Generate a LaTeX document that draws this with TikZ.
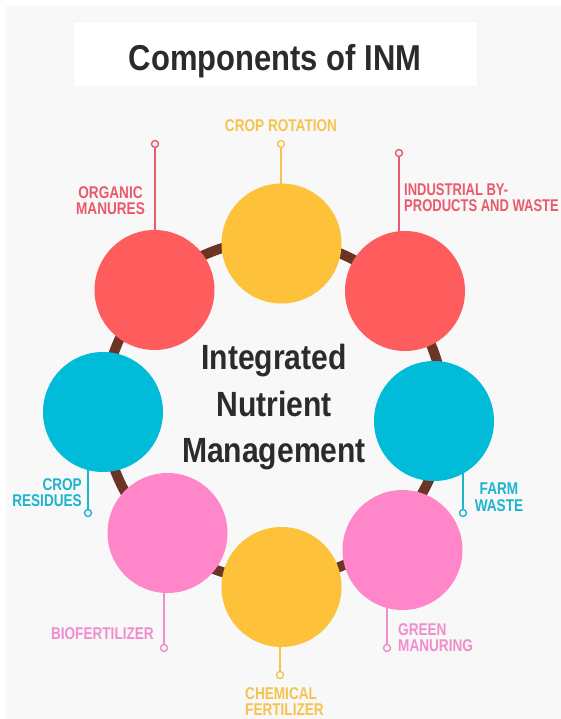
\documentclass[tikz,border=0pt]{standalone}
\usepackage{fontspec}
\newfontfamily\headfont{Liberation Sans}[FakeStretch=0.86]
\newfontfamily\tagfont{Liberation Sans}[FakeStretch=0.80]
\newfontfamily\tagfontnarrow{Liberation Sans}[FakeStretch=0.765]
\usetikzlibrary{backgrounds}

\definecolor{paper}{HTML}{F8F8F8}
\definecolor{ink}{HTML}{2B2B2B}
\definecolor{ringbrown}{HTML}{6B3424}
\definecolor{redfill}{HTML}{FF5D5D}
\definecolor{redtag}{HTML}{E95A6B}
\definecolor{yelfill}{HTML}{FDC13A}
\definecolor{yeltag}{HTML}{F6C34E}
\definecolor{cyanfill}{HTML}{00BCD8}
\definecolor{cyantag}{HTML}{1DB4CF}
\definecolor{pinkfill}{HTML}{FF86C9}
\definecolor{pinktag}{HTML}{F08DCC}

\pgfdeclarelayer{back}
\pgfsetlayers{back,main}

\begin{document}
\begin{tikzpicture}[x=1pt,y=-1pt,
  disc/.style={circle, minimum size=120pt, inner sep=0pt, draw=none},
  pindot/.style={circle, minimum size=7pt, inner sep=0pt, line width=1.4pt, fill=paper},
  pinline/.style={line width=1.6pt},
  ring/.style={draw=ringbrown, line width=10pt},
  tag/.style={inner sep=0pt, font=\tagfont\bfseries\fontsize{17}{16.5}\selectfont},
  titlebox/.style={rectangle, fill=white, draw=black!4, line width=0.6pt,
                   minimum width=404pt, minimum height=65pt, inner sep=0pt}]
\useasboundingbox (0,0) rectangle (561,719);

% page ground
\begin{pgfonlayer}{back}
  \fill[white] (0,0) rectangle (561,719);
  \fill[paper] (6,6) rectangle (561,719);
  \coordinate (hub) at (274,410);
  \draw[ring] (hub) circle[radius=170pt];
\end{pgfonlayer}

% heading
\node[titlebox] (headbox) at (275,53.5) {};
\node[anchor=base, inner sep=0pt, text=ink,
      font=\headfont\bfseries\fontsize{36}{40}\selectfont] (head) at (275,71) {Components of INM};

% the eight component discs
\node[disc, fill=yelfill]  (rotation)   at (281.5,243.5) {};
\node[disc, fill=redfill]  (manures)    at (154.5,290)   {};
\node[disc, fill=redfill]  (industrial) at (405,291)     {};
\node[disc, fill=cyanfill] (residues)   at (103,412)     {};
\node[disc, fill=cyanfill] (farm)       at (434,421)     {};
\node[disc, fill=pinkfill] (bio)        at (167.5,533)   {};
\node[disc, fill=pinkfill] (green)      at (402.5,550)   {};
\node[disc, fill=yelfill]  (chemical)   at (281.5,587)   {};

% pin heads
\node[pindot, draw=yeltag]  (pRot)   at (281,144) {};
\node[pindot, draw=redtag]  (pMan)   at (155,144) {};
\node[pindot, draw=redtag]  (pInd)   at (399,153) {};
\node[pindot, draw=cyantag] (pRes)   at (88,513)  {};
\node[pindot, draw=cyantag] (pFarm)  at (463,513) {};
\node[pindot, draw=pinktag] (pBio)   at (164,648) {};
\node[pindot, draw=pinktag] (pGreen) at (387,648) {};
\node[pindot, draw=yeltag]  (pChem)  at (280,675) {};

% pin stems, running under the discs
\begin{pgfonlayer}{back}
  \draw[pinline, yeltag]  (pRot)   -- (pRot |- rotation.center);
  \draw[pinline, redtag]  (pMan)   -- (pMan |- manures.center);
  \draw[pinline, redtag]  (pInd)   -- (pInd |- industrial.center);
  \draw[pinline, cyantag] (pRes)   -- (pRes |- residues.center);
  \draw[pinline, cyantag] (pFarm)  -- (pFarm |- farm.center);
  \draw[pinline, pinktag] (pBio)   -- (pBio |- bio.center);
  \draw[pinline, pinktag] (pGreen) -- (pGreen |- green.center);
  \draw[pinline, yeltag]  (pChem)  -- (pChem |- chemical.center);
\end{pgfonlayer}

% captions
\node[tag, text=yeltag, anchor=base] (tRot) at (281,132) {CROP ROTATION};
\node[tag, text=redtag, anchor=north, align=center] (tMan) at (110.5,186) {ORGANIC\\MANURES};
\node[tag, text=redtag, anchor=north west, align=left,
      font=\tagfontnarrow\bfseries\fontsize{17}{16.5}\selectfont] (tInd) at (404,183)
      {INDUSTRIAL BY-\\PRODUCTS AND WASTE};
\node[tag, text=cyantag, anchor=north east, align=right] (tRes) at (82,478) {CROP\\RESIDUES};
\node[tag, text=cyantag, anchor=north, align=center] (tFarm) at (499,483) {FARM\\WASTE};
\node[tag, text=pinktag, anchor=base east] (tBio) at (154,639) {BIOFERTILIZER};
\node[tag, text=pinktag, anchor=north west, align=left] (tGreen) at (398,623) {GREEN\\MANURING};
\node[tag, text=yeltag, anchor=north west, align=left] (tChem) at (245,687) {CHEMICAL\\FERTILIZER};

% centre caption
\node[anchor=north, align=center, inner sep=0pt, text=ink,
      font=\headfont\bfseries\fontsize{35}{46.5}\selectfont] (inm) at (274,344)
      {Integrated\\Nutrient\\Management};
\end{tikzpicture}
\end{document}
